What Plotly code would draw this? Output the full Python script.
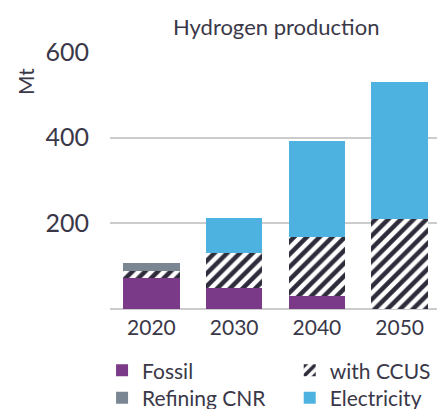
import plotly.graph_objects as go

years = ["2020", "2030", "2040", "2050"]
fossil = [73, 50, 31, 0]
ccus = [16, 80, 137, 209]
refining = [18, 0, 0, 0]
electricity = [0, 82, 225, 320]
y_ticks = [200, 400, 600]

TXT = "#3a3848"
FONT = "Lato"

fig = go.Figure()
fig.add_trace(go.Bar(x=years, y=fossil, name="Fossil", legend="legend",
                     marker=dict(color="#7b3a87", line=dict(width=0))))
fig.add_trace(go.Bar(x=years, y=ccus, name="with CCUS", legend="legend2",
                     marker=dict(color="white", line=dict(width=0),
                                 pattern=dict(shape="/", fgcolor="#2e2b3b", bgcolor="white",
                                              size=9, solidity=0.5, fillmode="replace"))))
fig.add_trace(go.Bar(x=years, y=refining, name="Refining CNR", legend="legend3",
                     marker=dict(color="#7a8793", line=dict(width=0))))
fig.add_trace(go.Bar(x=years, y=electricity, name="Electricity", legend="legend4",
                     marker=dict(color="#4eb2e1", line=dict(width=0))))

def leg(x, y):
    return dict(x=x, y=y, xanchor="left", yanchor="middle", orientation="v",
                font=dict(size=21, color=TXT, family=FONT), bgcolor="rgba(0,0,0,0)",
                borderwidth=0)

fig.update_layout(
    width=445, height=409,
    barmode="stack", bargap=0.32,
    margin=dict(l=102, r=12, t=44, b=108, autoexpand=False),
    paper_bgcolor="white", plot_bgcolor="white",
    font=dict(family=FONT, color=TXT, size=21),
    showlegend=True,
    legend=leg(-0.024, -0.24),
    legend2=leg(0.543, -0.24),
    legend3=leg(-0.024, -0.347),
    legend4=leg(0.543, -0.347),
    annotations=[
        dict(text="Hydrogen production", x=0.5, xref="paper", y=1.101, yref="paper",
             xanchor="center", yanchor="middle", showarrow=False, font=dict(size=22, color=TXT)),
        dict(text="Mt", x=-0.257, xref="paper", y=0.887, yref="paper", textangle=-90,
             xanchor="center", yanchor="middle", showarrow=False, font=dict(size=21, color=TXT)),
    ],
)
fig.update_xaxes(showgrid=False, showline=False, ticks="", tickfont=dict(size=21), ticklabelstandoff=4)
fig.update_yaxes(range=[0, 600], tickvals=y_ticks, showgrid=True, gridcolor="#cccccc", gridwidth=1.5,
                 zeroline=True, zerolinecolor="#cccccc", zerolinewidth=1.5,
                 showline=False, ticks="", tickfont=dict(size=25), ticklabelstandoff=20)

fig.write_html("out.html")
